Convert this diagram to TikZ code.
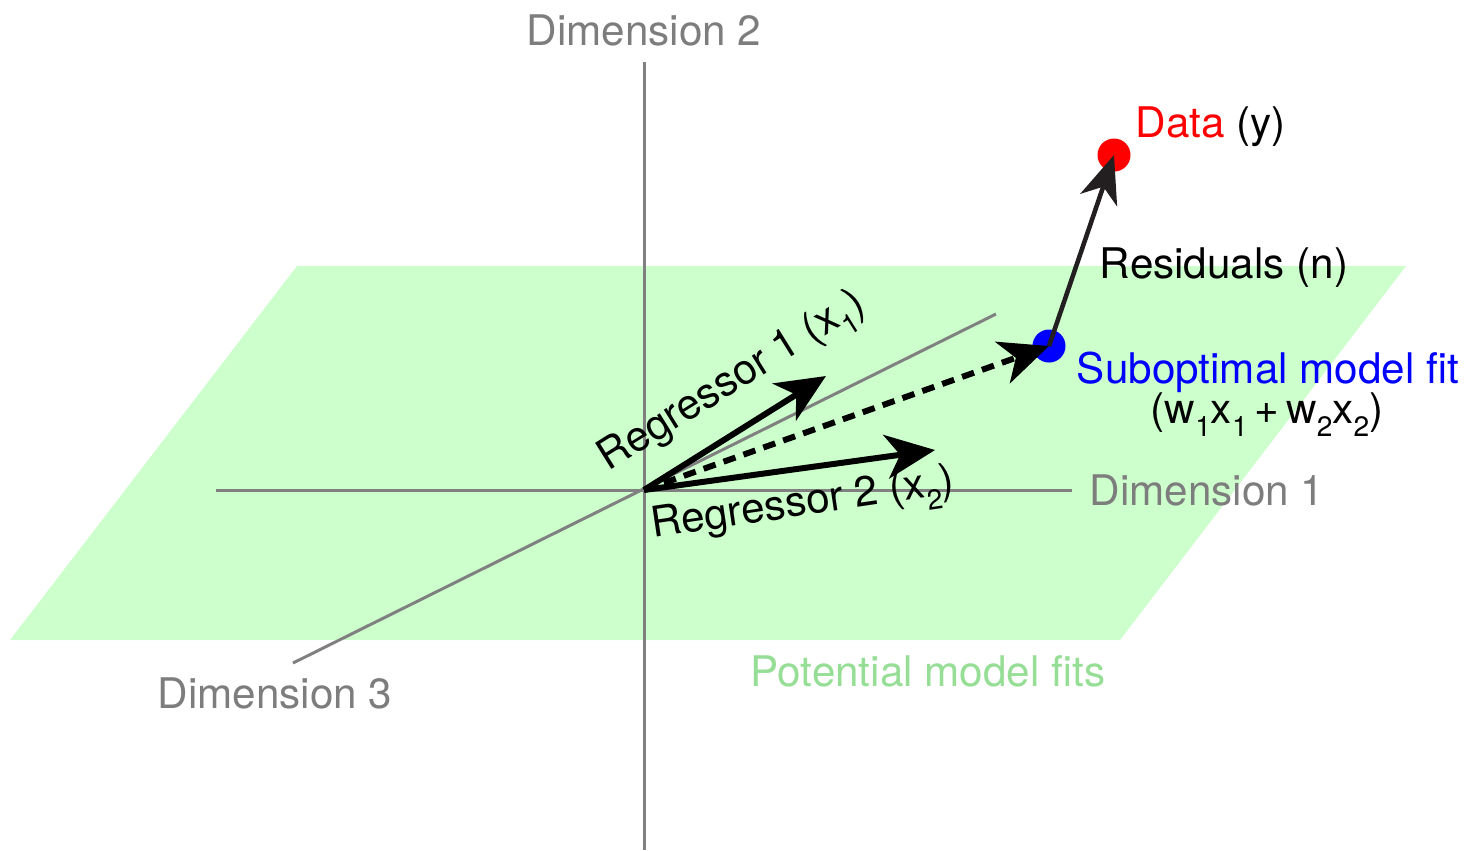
\documentclass[tikz,border=0pt]{standalone}
\usepackage{fontspec}
\setmainfont{TeX Gyre Heros}
\usetikzlibrary{arrows.meta}
\definecolor{planegreen}{RGB}{204,255,204}
\definecolor{axisgrey}{RGB}{128,128,128}
\definecolor{axtext}{RGB}{125,125,125}
\definecolor{fittext}{RGB}{150,222,150}
\definecolor{resid}{RGB}{35,31,32}
\newcommand\lowsub[1]{\raisebox{-0.32em}{\fontsize{8}{8}\selectfont #1}}
\begin{document}
\begin{tikzpicture}[x=0.01cm,y=-0.01cm,
  lbl/.style={font=\fontsize{12}{14}\selectfont, inner sep=0pt, anchor=base},
  axisline/.style={draw=axisgrey, line width=0.85pt},
  axislbl/.style={lbl, text=axtext},
  vecarrow/.style={line width=1.7pt, -{Stealth[length=14pt,width=12.5pt,inset=4pt]}},
  dotnode/.style={circle, inner sep=0pt, minimum size=0.33cm}]
\useasboundingbox (0,0) rectangle (1469,850);
% plane
\fill[planegreen] (297,266) -- (1406,266) -- (1120,640) -- (10,640) -- cycle;
% axes
\coordinate (O) at (644,490);
\coordinate (d2top) at (644,62);
\coordinate (d2bot) at (644,850);
\coordinate (d1l) at (216,490);
\coordinate (d1r) at (1072,490);
\coordinate (d3a) at (293,663);
\coordinate (d3b) at (996,314);
\draw[axisline] (d2top) -- (d2bot);
\draw[axisline] (d1l) -- (d1r);
\draw[axisline] (d3a) -- (d3b);
% axis labels
\node[axislbl] (lab2) at (644,45) {Dimension 2};
\node[axislbl] (lab1) at (1207,505) {Dimension 1};
\node[axislbl] (lab3) at (275,708) {Dimension 3};
\node[lbl, text=fittext] (labfit) at (928,686) {Potential model fits};
% dots
\node[dotnode, fill=red] (data) at (1114,155) {};
\node[dotnode, fill=blue] (fit) at (1049,346) {};
% vector tips
\coordinate (r1) at (826,376);
\coordinate (r2) at (935,450);
% arrows
\draw[vecarrow] (O) -- (r1);
\draw[vecarrow] (O) -- (r2);
\draw[vecarrow, dash pattern=on 3.6pt off 2.4pt] (O) -- (fit.center);
\draw[line width=1.3pt, draw=resid, -{Stealth[length=13.5pt,width=11pt,inset=4pt]}, fill=resid] (fit.center) -- (data.center);
% labels
\node[lbl] (labdata) at (1211,137) {\textcolor{red}{Data} (y)};
\node[lbl] (labres) at (1224,278) {Residuals (n)};
\node[lbl, text=blue] (labsub) at (1268,383) {Suboptimal model fit};
\node[lbl] (labw) at (1267,423) {(w\lowsub{1}x\lowsub{1}\,+\,w\lowsub{2}x\lowsub{2})};
\node[lbl, anchor=base west, rotate=32] (labr1) at (608,472) {Regressor 1 (x\lowsub{1})};
\node[lbl, anchor=base west, rotate=8.5] (labr2) at (653,538) {Regressor 2 (x\lowsub{2})};
\end{tikzpicture}
\end{document}
